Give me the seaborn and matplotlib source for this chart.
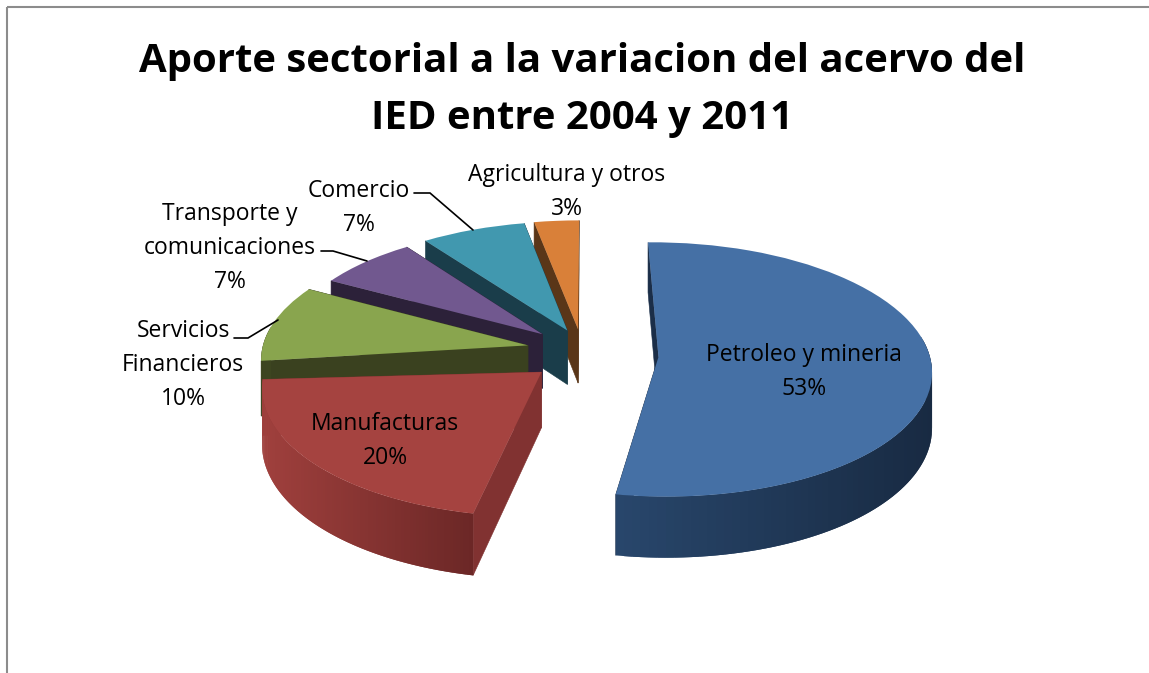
"""
    plot.py
    Exploded 3D style pie of sector shares, built on ax.pie wedges.
"""
import numpy as np
import seaborn as sns
import matplotlib
matplotlib.use('Agg')
import matplotlib.pyplot as plt
from matplotlib.colors import to_rgb
from matplotlib.patches import Polygon, Rectangle
from matplotlib.transforms import Transform

# Chart data.
SECTORS = ['Petroleo y mineria', 'Manufacturas', 'Servicios\nFinancieros',
           'Transporte y\ncomunicaciones', 'Comercio', 'Agricultura y otros']
SHARES = [53, 20, 10, 7, 7, 3]
TITLE = 'Aporte sectorial a la variacion del acervo del\nIED entre 2004 y 2011'

# Colours: top face, cut face, rim wall at the left and right side.
TOP_COLORS = ['#4570A5', '#A54340', '#89A54E', '#71588F', '#4198AF', '#D98039']
CUT_COLORS = ['#1B2E48', '#813231', '#3A411F', '#2C2139', '#1A3D4A', '#5A3618']
RIM_LEFT = ['#28466B', '#A0403D', '#3F4722', '#4C3A60', '#2B6577', '#96582A']
RIM_RIGHT = ['#182A42', '#6B2726', '#3A411F', '#2C2139', '#1A3D4A', '#5A3618']

# Projection of the unit disc onto the image, in pixels.
CX, CY, A, B, K = 590, 356, 274, 127, 0.10
DEPTH = 55
EXPLODE = 0.24

# Per slice tweaks to follow the perspective of the original.
RADIUS_SCALE = [0.99, 1.0, 0.975, 0.945, 0.98, 0.98]
SHIFT_X = [3, 0, 2, 1, 3, -6]
SHIFT_Y = [-2, -5, -5, -2, 2, 3]
TRIM_END = [1.2, -4, 0, 0, 0, 0]
TRIM_START = [1.0, -1.0, 0, 0, 0, 0]


def project(u, v, z=0.0):
    s = 1.0 / (1.0 + K * np.asarray(v))
    return CX + A * np.asarray(u) * s, CY - B * np.asarray(v) * s + z * DEPTH * s


class Tilt(Transform):
    input_dims = output_dims = 2

    def transform_non_affine(self, values):
        x, y = project(values[:, 0], values[:, 1])
        return np.column_stack([x, y])


def mix(c1, c2, t):
    return tuple((1 - t) * np.array(to_rgb(c1)) + t * np.array(to_rgb(c2)))


def draw_walls(ax, wedge, i, zorder):
    # Cut faces running from the apex out to both ends of the arc.
    (cu, cv), r = wedge.center, wedge.r
    t1, t2 = np.radians(wedge.theta1), np.radians(wedge.theta2)
    for t in (t1, t2):
        ru, rv = cu + r * np.cos(t), cv + r * np.sin(t)
        x0, y0 = project(cu, cv)
        x1, y1 = project(ru, rv)
        x2, y2 = project(ru, rv, 1)
        x3, y3 = project(cu, cv, 1)
        ax.add_patch(Polygon([(x0, y0), (x1, y1), (x2, y2), (x3, y3)],
                             facecolor=CUT_COLORS[i], edgecolor=CUT_COLORS[i],
                             linewidth=0.4, zorder=zorder))
    # Rim wall as thin overlapping strips, shaded from left to right.
    ts = np.linspace(t1, t2, 120)
    xs, _ = project(cu + r * np.cos(ts), cv + r * np.sin(ts))
    lo, hi = xs.min(), xs.max()
    order = np.argsort(xs)
    for n in order[:-1]:
        a, b = ts[n], ts[min(n + 2, len(ts) - 1)]
        if n + 1 >= len(ts) or np.sin(0.5 * (a + b)) > 0.15:
            continue
        ua, va = cu + r * np.cos(a), cv + r * np.sin(a)
        ub, vb = cu + r * np.cos(b), cv + r * np.sin(b)
        pts = [project(ua, va), project(ub, vb), project(ub, vb, 1), project(ua, va, 1)]
        color = mix(RIM_LEFT[i], RIM_RIGHT[i], (xs[n] - lo) / max(hi - lo, 1))
        ax.add_patch(Polygon(pts, facecolor=color, edgecolor='none',
                             linewidth=0, zorder=zorder + 0.1))


def main():
    sns.set_theme(style='white')
    plt.rcParams['font.family'] = ['Open Sans', 'DejaVu Sans']

    fig = plt.figure(figsize=(11.49, 6.73), dpi=100, facecolor='white')
    ax = fig.add_axes([0, 0, 1, 1])

    palette = sns.color_palette(TOP_COLORS)
    wedges, _ = ax.pie(SHARES, explode=[EXPLODE] * len(SHARES), startangle=90,
                       counterclock=False, colors=palette, normalize=True)

    # pie forces an equal aspect; switch to image pixels for everything else.
    ax.set_aspect('auto')
    ax.set_xlim(0, 1149)
    ax.set_ylim(673, 0)
    ax.axis('off')

    for i, wedge in enumerate(wedges):
        cu, cv = wedge.center
        wedge.set_center((cu + SHIFT_X[i] / A, cv - SHIFT_Y[i] / B))
        wedge.set_radius(wedge.r * RADIUS_SCALE[i])
        wedge.set_theta1(wedge.theta1 + TRIM_END[i])
        wedge.set_theta2(wedge.theta2 + TRIM_START[i])

    # Back to front: small rear slices first, the nearest slice last.
    tilt = Tilt()
    for rank, i in enumerate([5, 4, 3, 2, 0, 1]):
        zorder = 2 + rank
        draw_walls(ax, wedges[i], i, zorder)
        wedges[i].set_transform(tilt + ax.transData)
        wedges[i].set_zorder(zorder + 0.5)
        wedges[i].set_edgecolor('none')

    # Chart frame: only left and top sides show in the crop.
    ax.add_patch(Rectangle((6.5, 7), 1300, 800, fill=False, edgecolor='#8C8C8C',
                           linewidth=1.5, zorder=1))

    ax.text(582, 90, TITLE, ha='center', va='center', fontsize=28.9,
            fontweight='bold', color='black', linespacing=1.58)

    # Leader lines.
    line = dict(color='black', linewidth=1.2, zorder=12, solid_joinstyle='miter')
    ax.plot([414, 430, 473], [193, 193, 230], **line)
    ax.plot([321, 333, 367], [251, 251, 261], **line)
    ax.plot([234, 248, 278], [338, 338, 320], **line)

    # Data labels.
    spots = [(804, 372), (385, 441), (183, 365), (230, 248), (359, 208), (567, 192)]
    for name, share, (x, y) in zip(SECTORS, SHARES, spots):
        ax.text(x, y, f'{name}\n{share}%', ha='center', va='center', fontsize=16.5,
                color='black', zorder=13, linespacing=1.55)

    fig.savefig('out.png', dpi=100, facecolor='white')


if __name__ == '__main__':
    main()
